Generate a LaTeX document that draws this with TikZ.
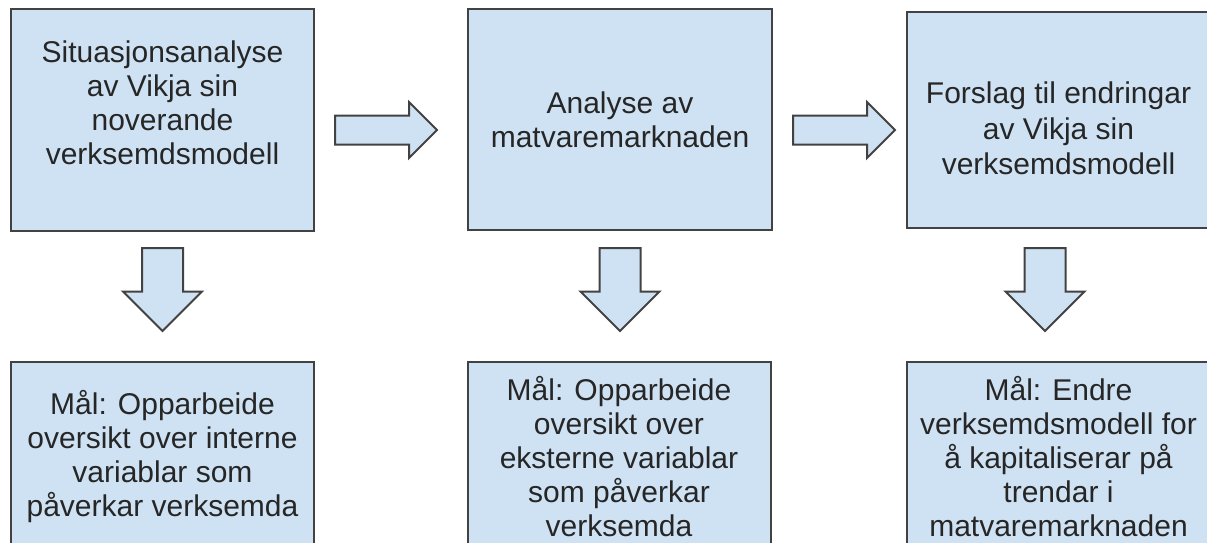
\documentclass[tikz,border=0pt]{standalone}
\usepackage{fontspec}
\setmainfont{Liberation Sans}
\usetikzlibrary{positioning, calc, shapes.arrows}
\definecolor{boxblue}{HTML}{CFE2F3}
\definecolor{boxline}{HTML}{424242}
\tikzset{
        my-box/.style={
            draw=boxline, fill=boxblue, line width=1pt, align=center,
            minimum width=151.5pt, inner sep=0pt,
            font=\fontsize{15pt}{17pt}\selectfont, text=black!85
        },
        my-right-arrow/.style={
            single arrow, draw=boxline, fill=boxblue, line width=1pt,
            single arrow tip angle=90, inner sep=6.75pt, anchor=tail,
            single arrow head extend=6.75pt, minimum height=51pt
        },
        my-down-arrow/.style={
            single arrow, draw=boxline, fill=boxblue, line width=1pt,
            single arrow tip angle=90, inner sep=9.75pt, shape border rotate=270,
            single arrow head extend=9.5pt, minimum height=41.5pt, anchor=tail
        },
}

\begin{document}
\begin{tikzpicture}[x=0.5pt, y=-0.5pt]

        \useasboundingbox (0,0) rectangle (1207,542);
        \clip (0,0) rectangle (1207,542);

        %DRAW NODES (TOP ROW)
        \node [my-box, minimum height=111pt]  (SIT)  at (162.5,120)           {Situasjonsanalyse\\av Vikja sin\\noverande\\verksemdsmodell\\~};
        \node [my-box, minimum height=110.5pt, minimum width=152pt] (ANA) at ($(SIT)+(457.5,-0.5)$) {Analyse av\\matvaremarknaden};
        \node [my-box, minimum height=108pt, font=\fontsize{15pt}{17.75pt}\selectfont]  (FOR)  at ($(SIT)+(896,0)$)     {\mbox{}\\[1.5pt]Forslag til endringar\\av Vikja sin\\verksemdsmodell};

        %DRAW NODES (BOTTOM ROW)
        \node [my-box, minimum height=95pt]   (MAL1) at ($(SIT)+(0,337)$)     {Mål: Opparbeide\\oversikt over interne\\variablar som\\påverkar verksemda};
        \node [my-box, minimum height=95pt]   (MAL2) at ($(ANA)+(-1,337.5)$)  {Mål: Opparbeide\\oversikt over\\eksterne variablar\\som påverkar\\verksemda};
        \node [my-box, minimum height=95pt]   (MAL3) at ($(FOR)+(0,337)$)     {Mål: Endre\\verksemdsmodell for\\å kapitaliserar på\\trendar i\\matvaremarknaden};

        % CONNECT TOP ROW
        \node [my-right-arrow] (R1) at ($(SIT.east)+(19,10)$)  {};
        \node [my-right-arrow] (R2) at ($(ANA.east)+(19,10.5)$) {};

        % CONNECT DOWN
        \node [my-down-arrow]  (D1) at ($(SIT.south)+(0,15)$)      {};
        \node [my-down-arrow]  (D2) at ($(ANA.south)+(0,16)$)      {};
        \node [my-down-arrow]  (D3) at ($(FOR.south)+(-13.5,18)$)  {};

    \end{tikzpicture}
\end{document}
